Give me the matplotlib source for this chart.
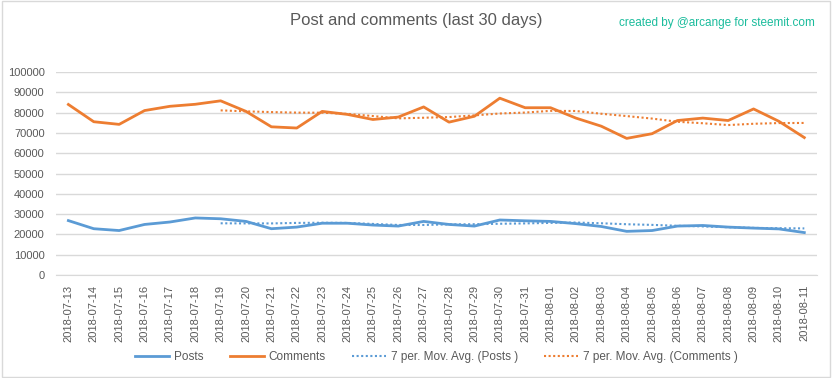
#Post and comments chart, last 30 days
import matplotlib
matplotlib.use('Agg')
import matplotlib.pyplot as plt
import pandas as pd

plt.rcParams['font.family'] = ['Liberation Sans', 'DejaVu Sans']

dates = ['2018-07-13', '2018-07-14', '2018-07-15', '2018-07-16', '2018-07-17',
         '2018-07-18', '2018-07-19', '2018-07-20', '2018-07-21', '2018-07-22',
         '2018-07-23', '2018-07-24', '2018-07-25', '2018-07-26', '2018-07-27',
         '2018-07-28', '2018-07-29', '2018-07-30', '2018-07-31', '2018-08-01',
         '2018-08-02', '2018-08-03', '2018-08-04', '2018-08-05', '2018-08-06',
         '2018-08-07', '2018-08-08', '2018-08-09', '2018-08-10', '2018-08-11']

posts = [26800, 22800, 21900, 24900, 26100, 28100, 27700, 26400, 22800, 23600,
         25500, 25500, 24600, 24100, 26400, 24900, 24100, 27100, 26700, 26400,
         25300, 23900, 21500, 21900, 24100, 24400, 23600, 23100, 22700, 20900]

comments = [84000, 75500, 74200, 81000, 83100, 84100, 85800, 80600, 73000, 72400,
            80600, 79100, 76600, 77800, 82800, 75300, 78200, 87100, 82400, 82400,
            77300, 73300, 67300, 69600, 76100, 77300, 76100, 81800, 75700, 67700]

y_ticks = list(range(0, 100001, 10000))

blue = '#5B9BD5'
orange = '#ED7D31'
txt = '#595959'

# 7 period moving average, same as the excel trendline
posts_ma = pd.Series(posts).rolling(7).mean()
comments_ma = pd.Series(comments).rolling(7).mean()

fig = plt.figure(figsize=(8.32, 3.78), dpi=100)
ax = fig.add_axes([55.7/832, 1-275/378, (817-55.7)/832, (275-72)/378])

x = list(range(len(dates)))
ax.plot(x, posts, color=blue, lw=2, label='Posts')
ax.plot(x, comments, color=orange, lw=2, label='Comments')
ax.plot(x, posts_ma, color=blue, lw=1.5, ls=(0, (1, 1.2)), label='7 per. Mov. Avg. (Posts )')
ax.plot(x, comments_ma, color=orange, lw=1.5, ls=(0, (1, 1.2)), label='7 per. Mov. Avg. (Comments )')

ax.set_xlim(-0.5, len(dates)-0.5)
ax.set_ylim(0, 100000)
ax.set_yticks(y_ticks)
ax.set_yticklabels([str(v) for v in y_ticks])
ax.set_xticks(x)
ax.set_xticklabels(dates, rotation=90)
ax.grid(axis='y', color='#D9D9D9', lw=1)
ax.set_axisbelow(True)
for s in ['top', 'right', 'left']:
    ax.spines[s].set_visible(False)
ax.spines['bottom'].set_color('#D9D9D9')
ax.tick_params(axis='both', length=0, colors=txt, labelsize=8)
ax.tick_params(axis='y', pad=8)
ax.tick_params(axis='x', pad=7)

fig.text(0.5, 1-20/378, 'Post and comments (last 30 days)', ha='center', va='center',
         fontsize=12, color=txt)
fig.text(815/832, 1-23/378, 'created by @arcange for steemit.com', ha='right', va='center',
         fontsize=8.5, color='#1ABC9C')

ax.legend(loc='center', bbox_to_anchor=(0.5, (275-357)/(275-72)), ncol=4, frameon=False,
          fontsize=8.5, labelcolor=txt, handlelength=2.9, handletextpad=0.4,
          columnspacing=2.2)

fig.patches.append(plt.Rectangle((0.002, 0.003), 0.995, 0.994, transform=fig.transFigure,
                                 fill=False, edgecolor='#D9D9D9', lw=1))

fig.savefig('out.png', dpi=100)
